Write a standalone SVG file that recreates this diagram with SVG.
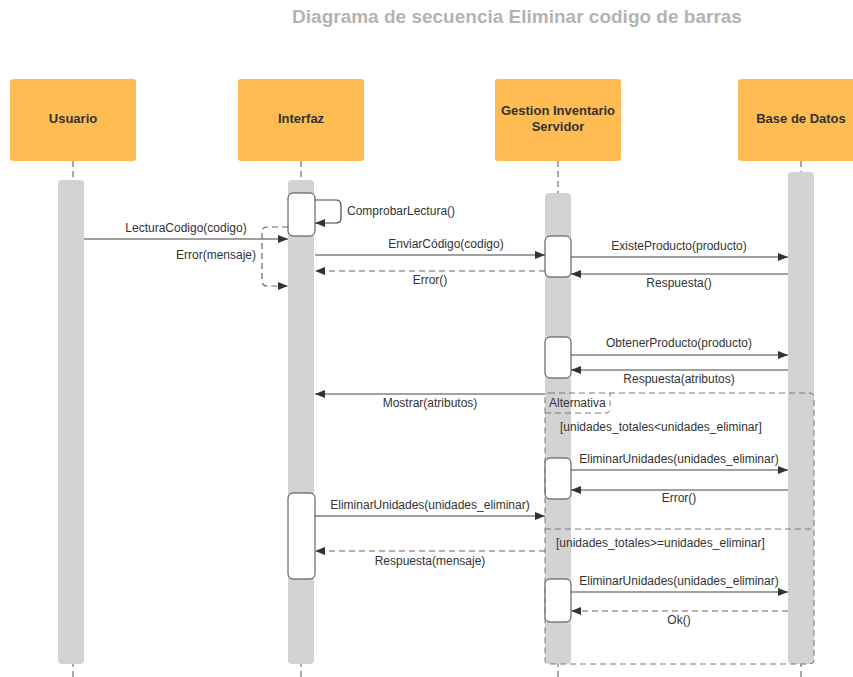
<svg xmlns="http://www.w3.org/2000/svg" width="853" height="677" viewBox="0 0 853 677">
<defs>
<marker id="ah" viewBox="0 0 10 8" refX="10" refY="4" markerWidth="10" markerHeight="8" markerUnits="userSpaceOnUse" orient="auto">
<path d="M0,0 L10,4 L0,8 z" fill="#333"/>
</marker>
</defs>
<style>
.actor{fill:#ffbc52;}
.alab{font-family:"Liberation Sans",Arial,sans-serif;font-weight:bold;font-size:13px;fill:#333;text-anchor:middle;}
.life{stroke:#555;stroke-width:1;stroke-dasharray:6,4;fill:none;}
.bar{fill:#d3d3d6;}
.act{fill:#fff;stroke:#444;stroke-width:1;}
.msg{stroke:#444;stroke-width:1.2;fill:none;marker-end:url(#ah);}
.ret{stroke:#666;stroke-width:1.2;fill:none;stroke-dasharray:6,4;marker-end:url(#ah);}
.t{font-family:"Liberation Sans",Arial,sans-serif;font-size:12px;fill:#333;}
.c{text-anchor:middle;}
.frame{fill:none;stroke:#777;stroke-width:1;stroke-dasharray:6,4;}
</style>
<text x="517" y="23" font-family="Liberation Sans,Arial,sans-serif" font-weight="bold" font-size="19" fill="#b3b3b3" text-anchor="middle">Diagrama de secuencia Eliminar codigo de barras</text>

<g id="usuario">
<line class="life" x1="73" y1="161" x2="73" y2="677"/>
<rect class="bar" x="58" y="180" width="26" height="484" rx="4"/>
<rect class="actor" x="10" y="79" width="126" height="82" rx="3"/>
<text class="alab" x="73" y="123">Usuario</text>
</g>
<g id="interfaz">
<line class="life" x1="301" y1="161" x2="301" y2="677"/>
<rect class="bar" x="288" y="180" width="26" height="484" rx="4"/>
<rect class="actor" x="238" y="79" width="126" height="82" rx="3"/>
<text class="alab" x="301" y="123">Interfaz</text>
<rect class="act" x="288" y="193" width="27" height="43" rx="5"/>
<rect class="act" x="288" y="493" width="27" height="86" rx="5"/>
</g>
<g id="gestion">
<line class="life" x1="558" y1="161" x2="558" y2="677"/>
<rect class="bar" x="545" y="193" width="26" height="471" rx="4"/>
<rect class="actor" x="495" y="79" width="126" height="82" rx="3"/>
<text class="alab" x="558" y="115">Gestion Inventario</text>
<text class="alab" x="558" y="131">Servidor</text>
<rect class="act" x="545" y="236" width="26" height="41" rx="5"/>
<rect class="act" x="545" y="337" width="26" height="41" rx="5"/>
<rect class="act" x="545" y="458" width="26" height="41" rx="5"/>
<rect class="act" x="545" y="579" width="26" height="43" rx="5"/>
</g>
<g id="basedatos">
<line class="life" x1="801" y1="161" x2="801" y2="677"/>
<rect class="bar" x="788" y="172" width="26" height="492" rx="4"/>
<rect class="actor" x="738" y="79" width="126" height="82" rx="3"/>
<text class="alab" x="801" y="123">Base de Datos</text>
</g>

<g id="fragment">
<rect class="frame" x="545" y="393" width="269" height="271" rx="4"/>
<path class="frame" d="M545,413 L606,413 Q610,413 610,409 L610,393"/>
<text class="t" x="549" y="407">Alternativa</text>
<line class="frame" x1="545" y1="529" x2="814" y2="529"/>
<text class="t" x="560" y="431">[unidades_totales&lt;unidades_eliminar]</text>
<text class="t" x="556" y="547">[unidades_totales&gt;=unidades_eliminar]</text>
</g>

<g id="connectors">
<path class="msg" d="M315,200 L336,200 Q341,200 341,205 L341,218 Q341,223 336,223 L315,223"/>
<text class="t" x="347" y="215">ComprobarLectura()</text>
<line class="msg" x1="84" y1="239" x2="288" y2="239"/>
<text class="t c" x="186" y="232">LecturaCodigo(codigo)</text>
<path class="ret" d="M288,227 L267,227 Q262,227 262,232 L262,281 Q262,286 267,286 L288,286"/>
<text class="t" x="256" y="259" text-anchor="end">Error(mensaje)</text>
<line class="msg" x1="315" y1="255" x2="545" y2="255"/>
<text class="t c" x="446" y="248">EnviarCódigo(codigo)</text>
<line class="ret" x1="545" y1="271" x2="315" y2="271"/>
<text class="t c" x="430" y="284">Error()</text>
<line class="msg" x1="571" y1="257" x2="788" y2="257"/>
<text class="t c" x="679" y="250">ExisteProducto(producto)</text>
<line class="msg" x1="788" y1="274" x2="571" y2="274"/>
<text class="t c" x="679" y="287">Respuesta()</text>
<line class="msg" x1="571" y1="355" x2="788" y2="355"/>
<text class="t c" x="679" y="347">ObtenerProducto(producto)</text>
<line class="msg" x1="788" y1="370" x2="571" y2="370"/>
<text class="t c" x="679" y="383">Respuesta(atributos)</text>
<line class="msg" x1="545" y1="394" x2="315" y2="394"/>
<text class="t c" x="430" y="407">Mostrar(atributos)</text>
<line class="msg" x1="571" y1="470" x2="788" y2="470"/>
<text class="t c" x="679" y="463">EliminarUnidades(unidades_eliminar)</text>
<line class="msg" x1="788" y1="490" x2="571" y2="490"/>
<text class="t c" x="679" y="502">Error()</text>
<line class="msg" x1="315" y1="516" x2="545" y2="516"/>
<text class="t c" x="430" y="509">EliminarUnidades(unidades_eliminar)</text>
<line class="ret" x1="545" y1="551" x2="315" y2="551"/>
<text class="t c" x="430" y="565">Respuesta(mensaje)</text>
<line class="msg" x1="571" y1="592" x2="788" y2="592"/>
<text class="t c" x="679" y="585">EliminarUnidades(unidades_eliminar)</text>
<line class="ret" x1="788" y1="611" x2="571" y2="611"/>
<text class="t c" x="679" y="624">Ok()</text>
</g>
</svg>
